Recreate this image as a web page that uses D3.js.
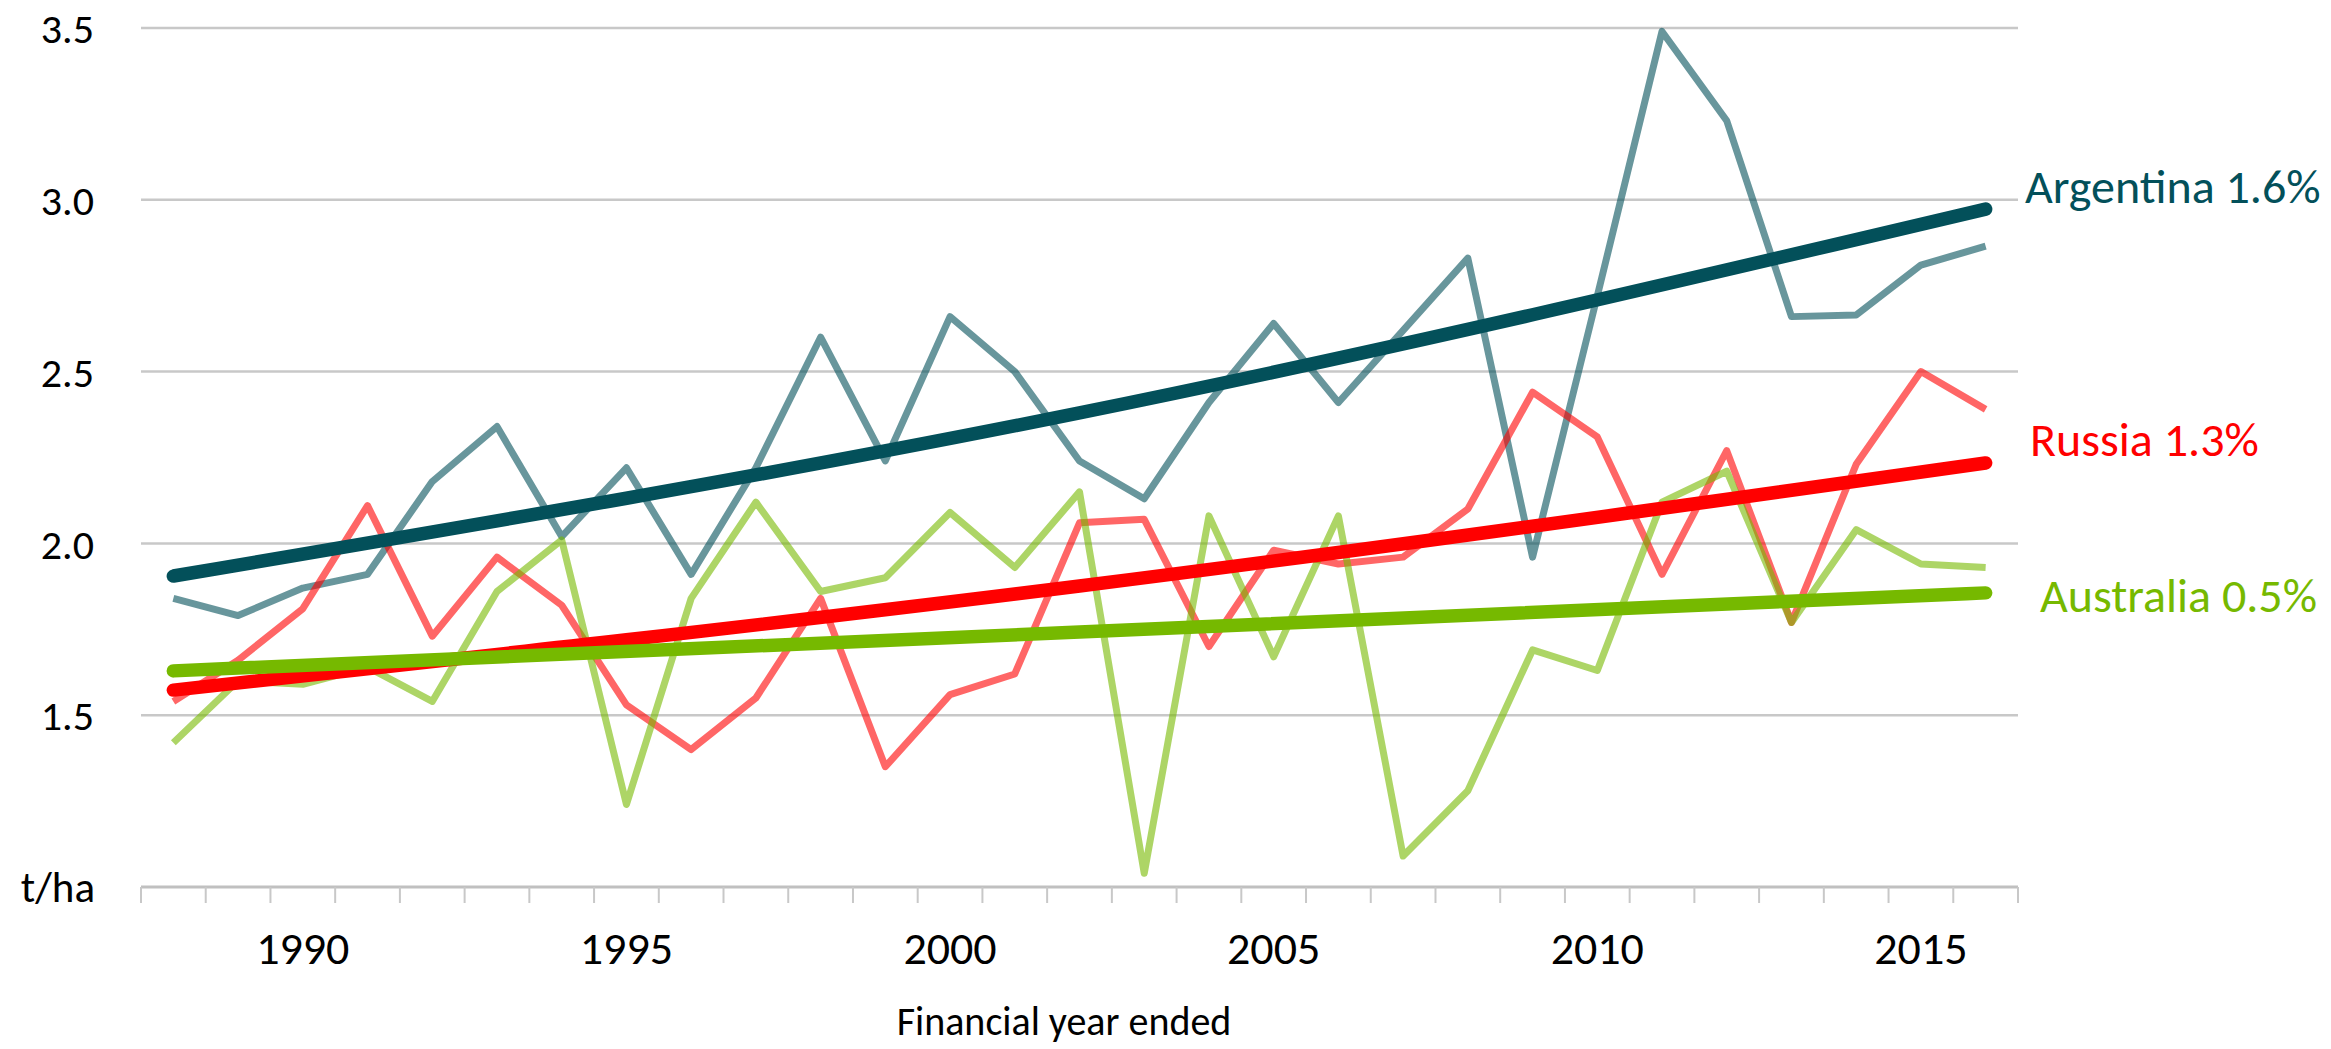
<!DOCTYPE html>
<html lang="en">
<head>
    <meta charset="UTF-8">
    <title>Wheat yields</title>
    <script src="https://d3js.org/d3.v7.min.js"></script>
    <style>
        body { margin: 0; background: #fff; }
        svg { display: block; font-family: Carlito, Calibri, Lato, sans-serif; }
        .grid line { stroke: #c8c8c8; stroke-width: 2.5px; }
        .tick-label { fill: #000; }
        .raw { fill: none; stroke-width: 7px; stroke-linejoin: round; stroke-opacity: 0.6; }
        .trend { fill: none; stroke-width: 13.5px; stroke-linecap: round; }
    </style>
</head>
<body>
<svg width="2331" height="1049"></svg>

<script>
    // financial year ended
    const years = [1988, 1989, 1990, 1991, 1992, 1993, 1994, 1995, 1996, 1997,
                   1998, 1999, 2000, 2001, 2002, 2003, 2004, 2005, 2006, 2007,
                   2008, 2009, 2010, 2011, 2012, 2013, 2014, 2015, 2016];

    // yields, t/ha
    const argentina = [1.84, 1.79, 1.87, 1.91, 2.18, 2.34, 2.02, 2.22, 1.91, 2.22,
                       2.60, 2.24, 2.66, 2.50, 2.24, 2.13, 2.41, 2.64, 2.41, 2.62,
                       2.83, 1.96, 2.72, 3.49, 3.23, 2.66, 2.665, 2.81, 2.865];
    const russia = [1.54, 1.66, 1.81, 2.11, 1.73, 1.96, 1.82, 1.53, 1.40, 1.55,
                    1.84, 1.35, 1.56, 1.62, 2.06, 2.07, 1.70, 1.98, 1.94, 1.96,
                    2.10, 2.44, 2.31, 1.91, 2.27, 1.77, 2.23, 2.50, 2.39];
    const australia = [1.42, 1.60, 1.59, 1.64, 1.54, 1.86, 2.01, 1.24, 1.84, 2.12,
                       1.86, 1.90, 2.09, 1.93, 2.15, 1.04, 2.08, 1.67, 2.08, 1.09,
                       1.28, 1.69, 1.63, 2.12, 2.21, 1.77, 2.04, 1.94, 1.93];

    // trend lines at start, middle, end
    const trendYears = [1988, 2002, 2016];
    const argentinaTrend = [1.905, 2.38, 2.973];
    const russiaTrend = [1.573, 1.876, 2.234];
    const australiaTrend = [1.629, 1.742, 1.856];

    const growthLabels = ["Argentina 1.6%", "Russia 1.3%", "Australia 0.5%"];
    const yTicks = [1.5, 2.0, 2.5, 3.0, 3.5];
    const xTickLabels = [1990, 1995, 2000, 2005, 2010, 2015];

    const svg = d3.select("svg");

    const x = d3.scaleBand().domain(years).range([141, 2018]);
    const y = d3.scaleLinear().domain([1, 3.5]).range([887, 28]);
    const cx = d => x(d) + x.bandwidth() / 2;

    // gridlines
    svg.append("g").attr("class", "grid")
        .selectAll("line").data(yTicks).enter().append("line")
        .attr("x1", 141).attr("x2", 2018)
        .attr("y1", d => y(d)).attr("y2", d => y(d));

    // y labels
    svg.append("g").selectAll("text").data(yTicks).enter().append("text")
        .attr("class", "tick-label")
        .attr("x", 94).attr("y", d => y(d)).attr("dy", "0.36em")
        .attr("text-anchor", "end")
        .style("font-size", "42px")
        .text(d => d.toFixed(1));

    svg.append("text")
        .attr("x", 95).attr("y", y(1)).attr("dy", "0.36em")
        .attr("text-anchor", "end")
        .style("font-size", "43px")
        .text("t/ha");

    // x axis
    const xAxis = svg.append("g").attr("transform", `translate(0,${y(1)})`);
    xAxis.append("line")
        .attr("x1", 141).attr("x2", 2018)
        .attr("stroke", "#c0c0c0").attr("stroke-width", 3);
    xAxis.selectAll(".tk").data(years.concat([null])).enter().append("line")
        .attr("x1", (d, i) => i < years.length ? x(d) : x.range()[1])
        .attr("x2", (d, i) => i < years.length ? x(d) : x.range()[1])
        .attr("y1", 0).attr("y2", 16)
        .attr("stroke", "#c8c8c8").attr("stroke-width", 2);
    xAxis.selectAll("text").data(xTickLabels).enter().append("text")
        .attr("x", d => cx(d)).attr("y", 77)
        .attr("text-anchor", "middle")
        .style("font-size", "46px")
        .text(d => d);

    svg.append("text")
        .attr("x", 1064).attr("y", 1035)
        .attr("text-anchor", "middle")
        .style("font-size", "40px")
        .text("Financial year ended");

    const colors = ["#03505a", "#ff0000", "#76b900"];
    const rawSeries = [argentina, russia, australia];
    const trendSeries = [argentinaTrend, russiaTrend, australiaTrend];

    const line = d3.line()
        .x((d, i) => cx(years[i]))
        .y(d => y(d));

    const trendLine = d3.line()
        .x((d, i) => cx(trendYears[i]))
        .y(d => y(d))
        .curve(d3.curveNatural);

    svg.append("g").selectAll("path").data(rawSeries).enter().append("path")
        .attr("class", "raw")
        .attr("stroke", (d, i) => colors[i])
        .attr("d", line);

    svg.append("g").selectAll("path").data(trendSeries).enter().append("path")
        .attr("class", "trend")
        .attr("stroke", (d, i) => colors[i])
        .attr("d", trendLine);

    // growth labels at the right
    const labelPos = [[2025, 203], [2030, 456], [2040, 612]];
    svg.append("g").selectAll("text").data(growthLabels).enter().append("text")
        .attr("x", (d, i) => labelPos[i][0])
        .attr("y", (d, i) => labelPos[i][1])
        .attr("fill", (d, i) => colors[i])
        .style("font-size", "48px")
        .text(d => d);
</script>
</body>
</html>
